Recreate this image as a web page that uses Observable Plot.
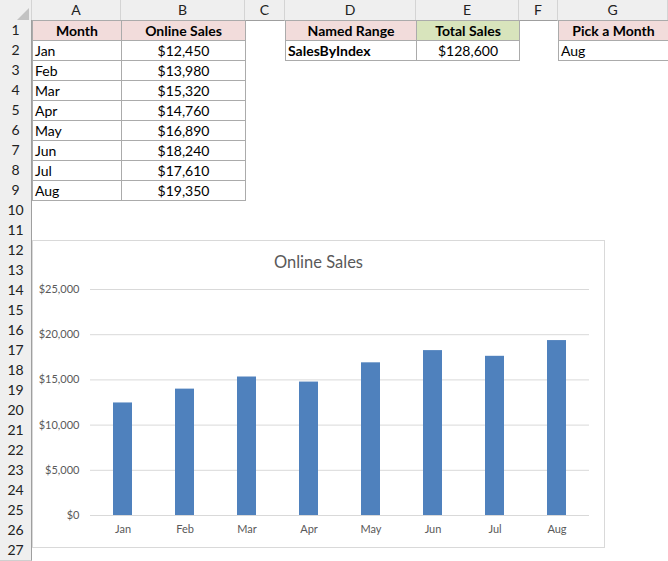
<!DOCTYPE html>
<html>
<head>
<meta charset="utf-8">
<script src="https://cdn.jsdelivr.net/npm/d3@7"></script>
<script src="https://cdn.jsdelivr.net/npm/@observablehq/plot@0.6"></script>
<style>
  html, body { margin: 0; padding: 0; background: #fff; }
  body { width: 668px; height: 561px; overflow: hidden; position: relative; font-family: Lato, "Liberation Sans", sans-serif; }
  .abs { position: absolute; box-sizing: border-box; }
  .colhdr { background: #efefef; border-right: 1px solid #d4d4d4; border-bottom: 1px solid #9f9f9f; text-align: center; font-size: 14px; line-height: 20px; color: #222; }
  .rowhdr { background: #efefef; border-bottom: 1px solid #cfcfcf; border-right: 1px solid #9f9f9f; text-align: center; font-size: 14px; line-height: 20px; color: #222; }
  .cell { border: 1px solid #ababab; font-size: 14px; line-height: 20px; color: #000; white-space: nowrap; overflow: hidden; background: #fff; }
  .pink { background: #f2dcdb; }
  .green { background: #d8e4bc; }
  .b { font-weight: bold; }
  .c { text-align: center; }
  .l { text-align: left; padding-left: 2px; }
  #chartbox { left: 32px; top: 240px; width: 573px; height: 308px; border: 1px solid #d9d9d9; background: #fff; }
  #title { left: 0; width: 571px; top: 13px; text-align: center; font-size: 16.5px; line-height: 16px; color: #595959; }
  #plot { left: 0; top: 29px; }
</style>
</head>
<body>
<div id="chartbox" class="abs">
  <div id="title" class="abs"></div>
  <div id="plot" class="abs"></div>
</div>
<script>
// ---- data ----
const colLetters = ["A", "B", "C", "D", "E", "F", "G"];
const headerMonth = "Month";
const headerSales = "Online Sales";
const months = ["Jan", "Feb", "Mar", "Apr", "May", "Jun", "Jul", "Aug"];
const sales = [12450, 13980, 15320, 14760, 16890, 18240, 17610, 19350];
const namedRangeHeader = "Named Range";
const namedRangeName = "SalesByIndex";
const totalHeader = "Total Sales";
const totalSales = [128600];
const pickHeader = "Pick a Month";
const pickedMonth = ["Aug"];
const yTicks = [0, 5000, 10000, 15000, 20000, 25000];
const chartTitle = "Online Sales";

// ---- layout ----
const colEdges = [0, 32, 121, 245, 285, 416, 519, 558, 668];
const rowH = 20;
const nRows = 27;
const fmt = d3.format(",");
const money = v => "$" + fmt(v);

function el(cls, x, y, w, h, text) {
  const d = document.createElement("div");
  d.className = "abs " + cls;
  d.style.left = x + "px"; d.style.top = y + "px";
  d.style.width = w + "px"; d.style.height = h + "px";
  if (text != null) d.textContent = text;
  document.body.insertBefore(d, document.getElementById("chartbox"));
  return d;
}

// column headers
el("colhdr", 0, 0, 32, 21, "");
colLetters.forEach((c, i) => el("colhdr", colEdges[i + 1], 0, colEdges[i + 2] - colEdges[i + 1], 21, c));
// corner triangle
const tri = el("", 16, 5, 13, 13, "");
tri.innerHTML = '<svg width="13" height="13"><polygon points="13,0 13,13 0,13" fill="#c3c3c3"/></svg>';
// row headers
for (let r = 1; r <= nRows; r++) el("rowhdr", 0, r * rowH, 32, 21, String(r));

function cell(col, row, text, cls) {
  const x = colEdges[col + 1];
  const w = colEdges[col + 2] - x + 1;
  el("cell " + cls, x, row * rowH, w, 21, text);
}
// table A:B
cell(0, 1, headerMonth, "pink b c");
cell(1, 1, headerSales, "pink b c");
months.forEach((m, i) => {
  cell(0, i + 2, m, "l");
  cell(1, i + 2, money(sales[i]), "c");
});
// D:E
cell(3, 1, namedRangeHeader, "pink b c");
cell(4, 1, totalHeader, "green b c");
cell(3, 2, namedRangeName, "b l");
cell(4, 2, money(totalSales[0]), "c");
// G
cell(6, 1, pickHeader, "pink b c");
cell(6, 2, pickedMonth[0], "l");

// ---- chart ----
document.getElementById("title").textContent = chartTitle;
const data = months.map((m, i) => ({month: m, sales: sales[i]}));
const chart = Plot.plot({
  width: 570,
  height: 276,
  marginTop: 19,
  marginBottom: 31,
  marginLeft: 57,
  marginRight: 14,
  style: {fontFamily: "Lato, 'Liberation Sans', sans-serif", fontSize: "11px", color: "#595959", background: "transparent"},
  x: {domain: months, paddingInner: 0.69, paddingOuter: 0.345, label: null},
  y: {domain: [0, 25000], ticks: yTicks, label: null},
  marks: [
    Plot.gridY(yTicks, {stroke: "#d9d9d9", strokeOpacity: 1}),
    Plot.barY(data, {x: "month", y: "sales", fill: "#4f81bd"}),
    Plot.axisY(yTicks, {tickSize: 0, tickPadding: 11, tickFormat: money, label: null, fill: "#595959"}),
    Plot.axisX({tickSize: 0, tickPadding: 10, label: null, fill: "#595959"})
  ]
});
document.getElementById("plot").appendChild(chart);
</script>
</body>
</html>
